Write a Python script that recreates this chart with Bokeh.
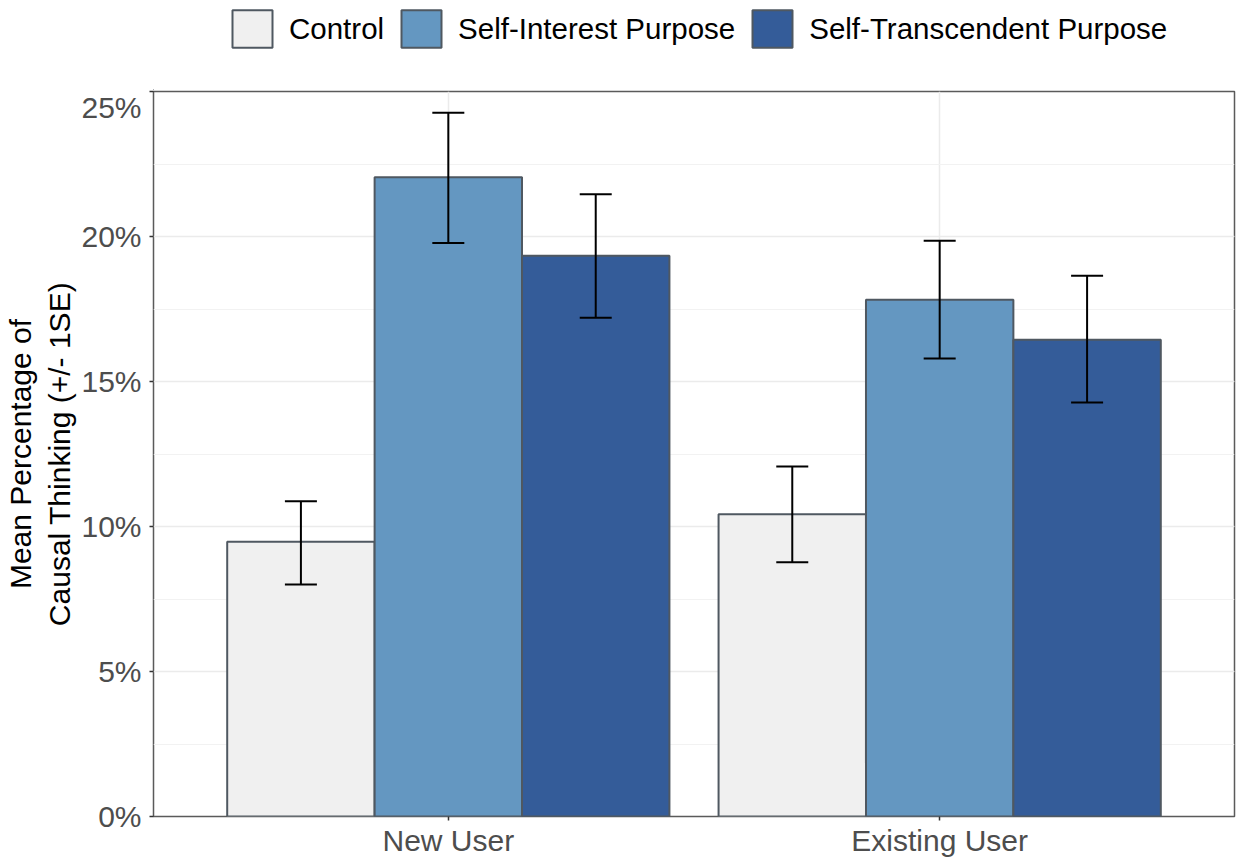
from bokeh.plotting import figure
from bokeh.layouts import column
from bokeh.models import (ColumnDataSource, Range1d, FixedTicker, SingleIntervalTicker,
                          PrintfTickFormatter, Legend, LegendItem, Whisker, TeeHead)
from bokeh.transform import dodge
from bokeh.embed import file_html
from bokeh.resources import INLINE

# ---- data (percent) ----
categories = ["New User", "Existing User"]
cat_pos = [1, 2]
groups = ["Control", "Self-Interest Purpose", "Self-Transcendent Purpose"]

control_mean = [9.47, 10.42]
control_lo = [8.00, 8.77]
control_hi = [10.87, 12.07]

self_interest_mean = [22.04, 17.82]
self_interest_lo = [19.78, 15.79]
self_interest_hi = [24.27, 19.85]

self_trans_mean = [19.34, 16.44]
self_trans_lo = [17.20, 14.28]
self_trans_hi = [21.46, 18.65]

# ---- style ----
FONT = "Liberation Sans"
fills = ["#F0F0F0", "#6497C1", "#345C99"]
offsets = [-0.3, 0.0, 0.3]
bar_w = 0.3
edge = "#4F5861"
TOP_H = 90

# ---- main chart ----
p = figure(width=1236, height=859 - TOP_H, output_backend="svg", toolbar_location=None,
           x_range=Range1d(0.4, 2.6), y_range=Range1d(0, 25),
           min_border_left=152, min_border_right=2, min_border_top=1, min_border_bottom=41)
p.background_fill_color = "white"
p.border_fill_color = "white"
p.outline_line_color = "#5A5A5A"
p.outline_line_width = 1.5

series = [
    (control_mean, control_lo, control_hi),
    (self_interest_mean, self_interest_lo, self_interest_hi),
    (self_trans_mean, self_trans_lo, self_trans_hi),
]

for name, (m, lo, hi), col, off in zip(groups, series, fills, offsets):
    src = ColumnDataSource(dict(x=cat_pos, top=m, lower=lo, upper=hi))
    p.vbar(x=dodge("x", off, range=p.x_range), top="top", bottom=0, width=bar_w,
           source=src, fill_color=col, line_color=edge, line_width=2)
    w = Whisker(source=src, base=dodge("x", off, range=p.x_range), lower="lower", upper="upper",
                dimension="height", line_color="black", line_width=2, level="overlay",
                upper_head=TeeHead(size=32, line_color="black", line_width=2),
                lower_head=TeeHead(size=32, line_color="black", line_width=2))
    p.add_layout(w)

p.xaxis.ticker = FixedTicker(ticks=cat_pos)
p.xaxis.major_label_overrides = {1: categories[0], 2: categories[1]}
p.yaxis.ticker = SingleIntervalTicker(interval=5, num_minor_ticks=2)
p.yaxis.formatter = PrintfTickFormatter(format="%d%%")

for ax in (p.xaxis, p.yaxis):
    ax.axis_line_color = None
    ax.major_tick_line_color = "#333333"
    ax.major_tick_line_width = 1.5
    ax.major_tick_out = 4
    ax.major_tick_in = 0
    ax.minor_tick_line_color = None
    ax.major_label_text_font = FONT
    ax.major_label_text_font_size = "30px"
    ax.major_label_text_color = "#4D4D4D"
    ax.major_label_standoff = 3
p.yaxis.major_label_standoff = 8

p.yaxis.axis_label = "Mean Percentage of\nCausal Thinking (+/- 1SE)"
p.yaxis.axis_label_text_font = FONT
p.yaxis.axis_label_text_font_size = "30px"
p.yaxis.axis_label_text_font_style = "normal"
p.yaxis.axis_label_text_color = "black"
p.yaxis.axis_label_standoff = 2

p.xgrid.ticker = FixedTicker(ticks=cat_pos)
p.xgrid.grid_line_color = "#EBEBEB"
p.xgrid.grid_line_width = 1.5
p.ygrid.grid_line_color = "#EBEBEB"
p.ygrid.grid_line_width = 1.5
p.ygrid.minor_grid_line_color = "#F2F2F2"
p.ygrid.minor_grid_line_width = 1

# ---- legend strip on top (keys share the bar styles; key glyphs sit outside the strip's view) ----
lg = figure(width=1236, height=TOP_H, output_backend="svg", toolbar_location=None,
            x_axis_location=None, y_axis_location=None,
            x_range=Range1d(0, 1), y_range=Range1d(0, 1), min_border=0)
lg.outline_line_color = None
lg.grid.visible = False
lg.border_fill_color = "white"
lg.background_fill_color = "white"
items = []
for name, col in zip(groups, fills):
    key = lg.vbar(x=[-5], top=[-5], bottom=-5, width=0.01,
                  fill_color=col, line_color=edge, line_width=2)
    items.append(LegendItem(label=name, renderers=[key]))

legend = Legend(items=items, orientation="horizontal", location=(226 - 152, TOP_H - 52))
legend.glyph_width = 50
legend.glyph_height = 47
legend.label_text_font = FONT
legend.label_text_font_size = "29.5px"
legend.label_text_color = "black"
legend.label_standoff = 12
legend.spacing = 12
legend.padding = 0
legend.margin = 0
legend.border_line_color = None
legend.background_fill_alpha = 0
legend.label_height = 47
lg.add_layout(legend)

layout = column(lg, p, spacing=0)
open("out.html", "w").write(file_html(layout, INLINE))
